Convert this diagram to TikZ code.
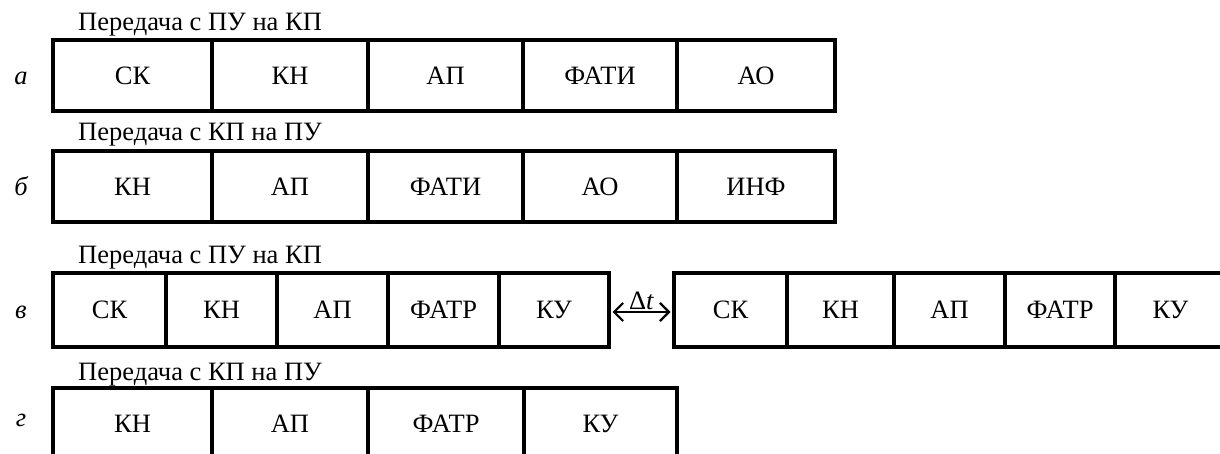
\documentclass[tikz,border=0pt]{standalone}
\usepackage{fontspec}
\setmainfont{Liberation Serif}
\usetikzlibrary{arrows.meta}
\begin{document}
\begin{tikzpicture}[x=1pt,y=-1pt,every node/.style={font=\fontsize{26.5}{30}\selectfont}]
    \tikzset{
      cell/.style={draw,line width=3.8pt,minimum height=71pt,inner sep=0pt},
      title/.style={anchor=west,inner sep=0pt},
      rowlab/.style={font=\fontsize{26.5}{30}\selectfont\itshape},
      gap/.style={line width=2.2pt,{Straight Barb[length=9pt,width=18pt]}-{Straight Barb[length=9pt,width=18pt]},shorten <=1.6pt,shorten >=1.6pt}
    }
    \useasboundingbox (0,0) rectangle (1220,454);
    \clip (0,0) rectangle (1220,454);
    % a
    \node[title] (ta) at (78,25) {Передача с ПУ на КП};
    \node[rowlab] (la) at (21,78) {а};
    \foreach \a/\b/\txt/\nm in {53/212/СК/a1,212/368/КН/a2,368/523/АП/a3,523/677/ФАТИ/a4,677/835/АО/a5} {
      \node[cell,minimum width={(\b-\a)*1pt}] (\nm) at ({(\a+\b)/2},75.5) {\txt};
    }
    % b
    \node[title] (tb) at (78,135) {Передача с КП на ПУ};
    \node[rowlab] (lb) at (21,186) {б};
    \foreach \a/\b/\txt/\nm in {53/212/КН/b1,212/368/АП/b2,368/523/ФАТИ/b3,523/677/АО/b4,677/835/ИНФ/b5} {
      \node[cell,minimum width={(\b-\a)*1pt}] (\nm) at ({(\a+\b)/2},186.5) {\txt};
    }
    % v
    \node[title] (tv) at (78,258) {Передача с ПУ на КП};
    \node[rowlab] (lv) at (21,312) {в};
    \foreach \a/\b/\txt/\nm in {53/166/СК/v1,166/277/КН/v2,277/388/АП/v3,388/499/ФАТР/v4,499/609/КУ/v5,
        674/787/СК/v6,787/894/КН/v7,894/1005/АП/v8,1005/1115/ФАТР/v9,1115/1226/КУ/v10} {
      \node[cell,minimum width={(\b-\a)*1pt},minimum height=74pt] (\nm) at ({(\a+\b)/2},310) {\txt};
    }
    \draw[gap] ([yshift=-2pt]v5.east) -- ([yshift=-2pt]v6.west)
      node[midway,above,inner sep=1pt] {Δ\textit{t}};
    % g
    \node[title] (tg) at (78,375) {Передача с КП на ПУ};
    \node[rowlab] (lg) at (21,420) {г};
    \foreach \a/\b/\txt/\nm in {53/212/КН/g1,212/368/АП/g2,368/524/ФАТР/g3,524/677/КУ/g4} {
      \node[cell,minimum width={(\b-\a)*1pt}] (\nm) at ({(\a+\b)/2},423.5) {\txt};
    }
\end{tikzpicture}
\end{document}
